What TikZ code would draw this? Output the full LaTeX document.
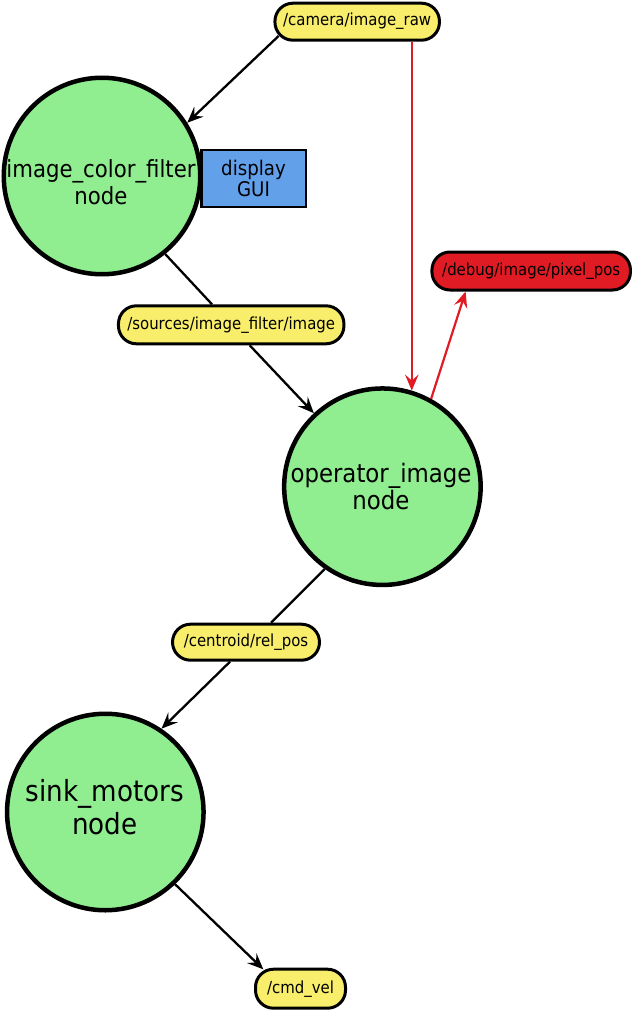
\documentclass[tikz,border=0pt]{standalone}
\usepackage{fontspec}
\setmainfont{DejaVu Sans}[FakeStretch=0.9]
\usetikzlibrary{arrows.meta,calc}
\definecolor{nodegreen}{HTML}{90EE90}
\definecolor{topicyellow}{HTML}{F8EE6B}
\definecolor{debugred}{HTML}{E01B24}
\definecolor{guiblue}{HTML}{62A0EA}
\begin{document}
\begin{tikzpicture}[x=1pt,y=-1pt,
  rosnode/.style={circle, draw, line width=4.5pt, fill=nodegreen, minimum size=196.5pt, inner sep=0pt},
  nodelabel/.style={align=center, inner sep=0pt},
  topic/.style={rectangle, draw, line width=3pt, fill=topicyellow, rounded corners=18pt,
    minimum height=37pt, inner xsep=0pt, inner ysep=0pt,
    font=\fontsize{16.6}{19}\selectfont, text height=12.6pt, text depth=4pt},
  guibox/.style={rectangle, draw, line width=2.5pt, fill=guiblue, minimum width=104.5pt,
    minimum height=56.5pt, inner sep=0pt, align=center, font=\fontsize{20.2}{21.7}\selectfont},
  conn/.style={line width=2.3pt, color=black},
  redconn/.style={line width=2.2pt, color=debugred},
  arrowed/.style={-{Stealth[length=16pt,width=13.5pt,inset=6pt]}}
]
\useasboundingbox (0,0) rectangle (633,1011);

% GUI box (behind the first node)
\node[guibox] (gui) at (253.5,178.5) {display\\GUI};

% ROS nodes
\node[rosnode] (icf) at (102,176) {};
\node[nodelabel, font=\fontsize{23.6}{27.7}\selectfont] (icft) at (101,182.2) {image\_color\_filter\\node};
\node[rosnode] (op) at (382.4,486.7) {};
\node[nodelabel, font=\fontsize{25.4}{27.7}\selectfont] (opt) at (381,486.5) {operator\_image\\node};
\node[rosnode] (sink) at (105.3,812) {};
\node[nodelabel, font=\fontsize{29.1}{32.6}\selectfont] (sinkt) at (105,807) {sink\_motors\\node};

% topics
\node[topic, minimum width=164.5pt] (cam) at (357.2,21.7) {/camera/image\_raw};
\node[topic, minimum width=225.5pt, minimum height=38pt] (src) at (231.2,324.8) {/sources/image\_filter/image};
\node[topic, minimum width=198.5pt, minimum height=38pt, fill=debugred] (dbg) at (531.2,271) {/debug/image/pixel\_pos};
\node[topic, minimum width=147pt, minimum height=36pt] (cen) at (246,642.2) {/centroid/rel\_pos};
\node[topic, minimum width=90pt, minimum height=39pt] (cmd) at (300.5,988.7) {/cmd\_vel};

% connectors
\draw[conn,arrowed] ($(cam.center)+(-78.6,14.3)$) -- (icf.32);
\draw[conn] (icf.-51) -- ($(src.north)+(-19.2,0)$);
\draw[conn,arrowed] ($(src.south)+(18.5,0)$) -- (op.133);
\draw[redconn,arrowed] (cam.south -| op.73.5) -- (op.73.5);
\draw[redconn,arrowed] (op.61) -- ($(dbg.south)+(-65.6,0)$);
\draw[conn] (op.235.4) -- ($(cen.north)+(25,0)$);
\draw[conn,arrowed] ($(cen.south)+(-16,0)$) -- (sink.56);
\draw[conn,arrowed] (sink.-46) -- ($(cmd.center)+(-37.2,-19.4)$);
\end{tikzpicture}
\end{document}
